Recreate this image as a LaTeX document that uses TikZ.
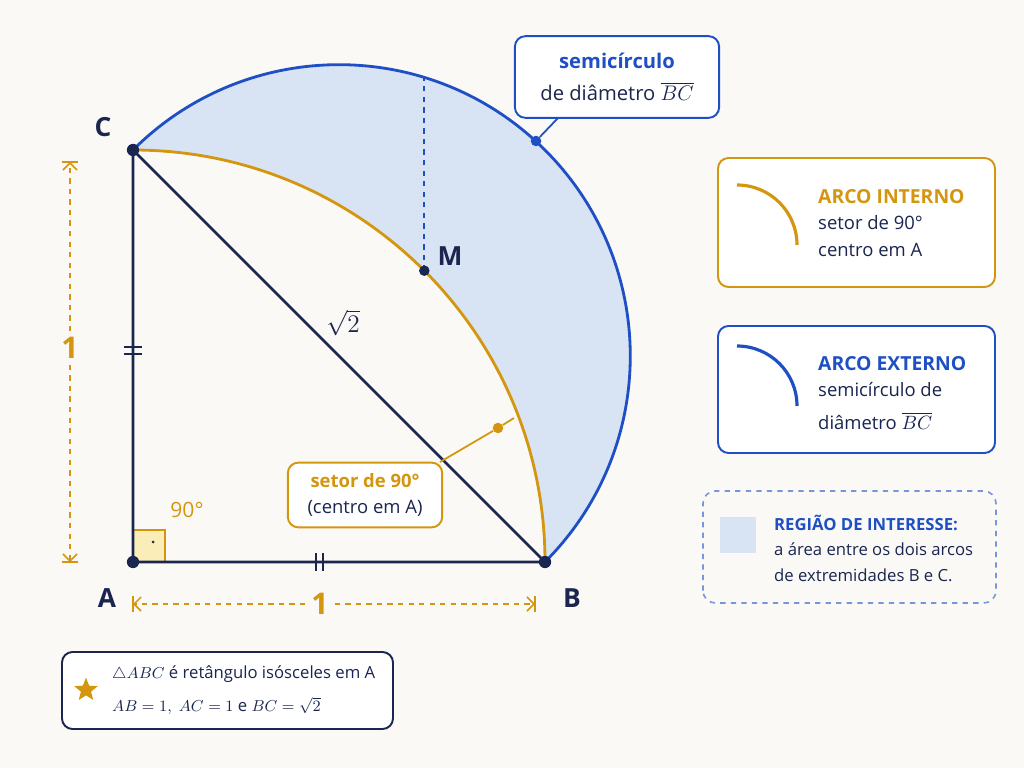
\documentclass[tikz,border=0pt]{standalone}
\usepackage{amsmath,amssymb}
\usepackage{fontspec}
\setmainfont{Open Sans}
\usepackage{xcolor}
\usetikzlibrary{arrows.meta}
\usetikzlibrary{shapes.geometric}
\definecolor{navy}{HTML}{1A2550}
\definecolor{ouro}{HTML}{D4960F}
\definecolor{azul}{HTML}{1F4FC4}
\definecolor{claro}{HTML}{D8E4F3}
\definecolor{fundo}{HTML}{FBF9F5}
\definecolor{creme}{HTML}{FBEDB8}
\tikzset{
  ponto/.style={circle,fill=navy,inner sep=0pt,minimum size=7pt},
  rotulo/.style={font=\bfseries\fontsize{15}{15}\selectfont,text=navy},
  caixa/.style={draw,rounded corners=6pt,line width=1.1pt,fill=white},
  linha/.style={font=\fontsize{10.5}{13}\selectfont,text=navy,anchor=west},
}
\begin{document}
\begin{tikzpicture}[x=0.02cm,y=0.02cm]
    \fill[fundo] (0,0) rectangle (1024,768);
    \useasboundingbox (0,0) rectangle (1024,768);
    \coordinate (A) at (133,206);
    \coordinate (B) at (545,206);
    \coordinate (C) at (133,618);
    \coordinate (O) at (339,412);
    \coordinate (M) at (424.3,497.3);
    \coordinate (T) at (424.3,690.5);
    % region between the two arcs
    \fill[claro] (C) arc[start angle=135,end angle=-45,radius=291.3]
      arc[start angle=0,end angle=90,radius=412];
    \draw[azul,line width=1.6pt] (C) arc[start angle=135,end angle=-45,radius=291.3];
    \draw[ouro,line width=1.6pt] (B) arc[start angle=0,end angle=90,radius=412];
    \draw[azul,dashed,line width=1.1pt] (M) -- (T);
    % triangle
    \fill[creme] (A) rectangle ++(32,32);
    \draw[ouro,line width=0.8pt] (A) rectangle ++(32,32);
    \fill[navy] (153,226) circle (1.5);
    \draw[navy,line width=1.5pt] (A) -- (B) -- (C) -- cycle;
    \draw[navy,line width=1.3pt] (124,414) -- (142,414) (124,421) -- (142,421);
    \draw[navy,line width=1.3pt] (316,197) -- (316,215) (323,197) -- (323,215);
    \node[ponto] (pA) at (A) {};
    \node[ponto] (pB) at (B) {};
    \node[ponto] (pC) at (C) {};
    \node[ponto,minimum size=6pt] (pM) at (M) {};
    \node[rotulo] (lA) at (107,170) {A};
    \node[rotulo] (lB) at (572,170) {B};
    \node[rotulo] (lC) at (103,641) {C};
    \node[rotulo] (lM) at (450,512) {M};
    \node[text=navy,font=\fontsize{14}{14}\selectfont] (raiz) at (343,445) {$\sqrt{2}$};
    \node[text=ouro,font=\fontsize{12}{12}\selectfont] (ang) at (187,258) {90°};
    % dimensions
    \coordinate (v1) at (70,606);
    \coordinate (v2) at (70,206);
    \coordinate (h1) at (133,164);
    \coordinate (h2) at (535,164);
    \node[text=ouro,font=\bfseries\fontsize{17}{17}\selectfont,fill=fundo] (d1) at (70,420) {1};
    \node[text=ouro,font=\bfseries\fontsize{17}{17}\selectfont,fill=fundo] (d2) at (320,164) {1};
    \draw[ouro,dashed,line width=0.9pt,-{Straight Barb[length=4pt]}] (d1) -- (v1);
    \draw[ouro,dashed,line width=0.9pt,-{Straight Barb[length=4pt]}] (d1) -- (v2);
    \draw[ouro,dashed,line width=0.9pt,-{Straight Barb[length=4pt]}] (d2) -- (h1);
    \draw[ouro,dashed,line width=0.9pt,-{Straight Barb[length=4pt]}] (d2) -- (h2);
    \draw[ouro,line width=0.9pt] (62,606) -- (78,606) (62,206) -- (78,206);
    \draw[ouro,line width=0.9pt] (133,156) -- (133,172) (535,156) -- (535,172);
    % callouts
    \node[caixa,draw=ouro,minimum width=155*0.567pt,minimum height=65*0.567pt,align=center,
      font=\fontsize{10.5}{15}\selectfont] (setor) at (365,273)
      {\textcolor{ouro}{\bfseries setor de 90°}\\\textcolor{navy}{(centro em A)}};
    \node[circle,fill=ouro,inner sep=0pt,minimum size=6pt] (ps) at (498,340) {};
    \draw[ouro,line width=1pt] (440,306) -- (ps) -- (514,350);
    \node[caixa,draw=azul,minimum width=205*0.567pt,minimum height=82*0.567pt,align=center,
      font=\fontsize{11.5}{18}\selectfont] (semi) at (617,691)
      {\textcolor{azul}{\bfseries semicírculo}\\\textcolor{navy}{de diâmetro $\overline{BC}$}};
    \node[circle,fill=azul,inner sep=0pt,minimum size=6pt] (pz) at (536,627) {};
    \draw[azul,line width=1pt] (558,650) -- (pz);
    % legend
    \draw[caixa,draw=ouro] (718,481) rectangle (995,610);
    \draw[ouro,line width=1.8pt] (737,583) arc[start angle=90,end angle=0,radius=60];
    \node[linha,font=\bfseries\fontsize{11}{13}\selectfont,text=ouro] (li1) at (812,571) {ARCO INTERNO};
    \node[linha] (li2) at (812,545) {setor de 90°};
    \node[linha] (li3) at (812,518) {centro em A};
    \draw[caixa,draw=azul] (718,315) rectangle (995,442);
    \draw[azul,line width=1.8pt] (737,422) arc[start angle=90,end angle=0,radius=60];
    \node[linha,font=\bfseries\fontsize{11}{13}\selectfont,text=azul] (le1) at (812,404) {ARCO EXTERNO};
    \node[linha] (le2) at (812,378) {semicírculo de};
    \node[linha] (le3) at (812,347) {diâmetro $\overline{BC}$};
    \draw[azul!60,dashed,line width=0.9pt,rounded corners=7pt,fill=fundo] (703,165) rectangle (996,277);
    \fill[claro] (720,215) rectangle (756,251);
    \node[linha,font=\bfseries\fontsize{9.5}{12}\selectfont,text=azul] (lr1) at (768,245) {REGIÃO DE INTERESSE:};
    \node[linha,font=\fontsize{9.5}{12}\selectfont] (lr2) at (768,219) {a área entre os dois arcos};
    \node[linha,font=\fontsize{9.5}{12}\selectfont] (lr3) at (768,193) {de extremidades B e C.};
    % note
    \draw[caixa,draw=navy] (62,39) rectangle (393,116);
    \node[star,star points=5,star point ratio=2.3,fill=ouro,inner sep=0pt,minimum size=14pt] (estrela) at (86,78) {};
    \node[linha,font=\fontsize{9.5}{12}\selectfont] (n1) at (106,94) {$\triangle ABC$ é retângulo isósceles em A};
    \node[linha,font=\fontsize{9.5}{12}\selectfont] (n2) at (106,62) {$AB = 1,\ AC = 1$ e $BC = \sqrt{2}$};
\end{tikzpicture}
\end{document}
